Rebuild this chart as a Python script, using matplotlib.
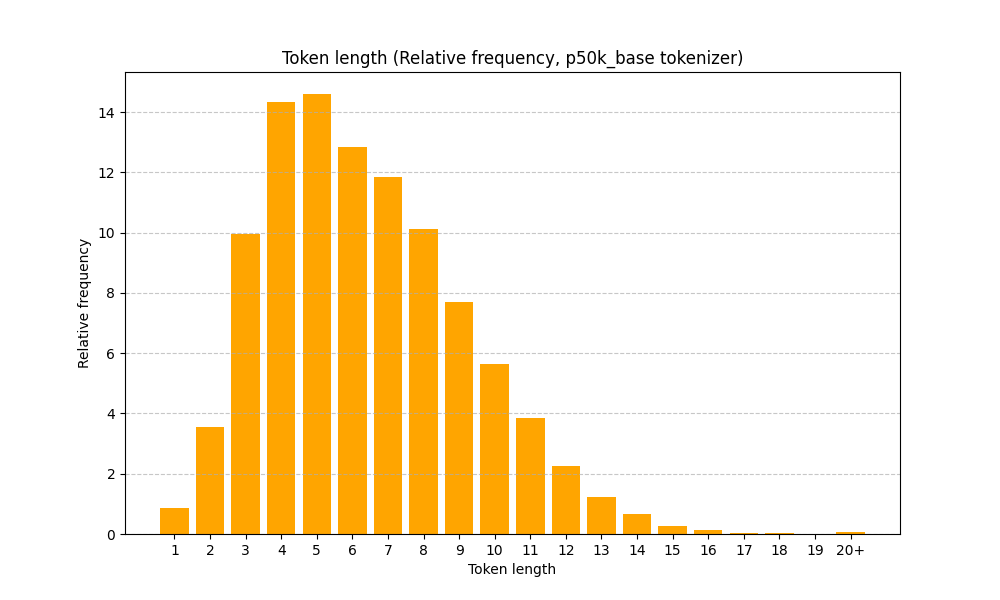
import matplotlib
matplotlib.use("Agg")
import matplotlib.pyplot as plt

# Token length buckets and relative frequency (%)
token_lengths = [str(i) for i in range(1, 20)] + ["20+"]
rel_freq = [0.86, 3.55, 9.95, 14.33, 14.6, 12.84, 11.85, 10.12, 7.7, 5.64,
            3.85, 2.26, 1.23, 0.66, 0.27, 0.13, 0.04, 0.03, 0.01, 0.07]

fig, ax = plt.subplots(figsize=(10, 6), dpi=100)
ax.bar(token_lengths, rel_freq, color="orange")
ax.set_title("Token length (Relative frequency, p50k_base tokenizer)")
ax.set_xlabel("Token length")
ax.set_ylabel("Relative frequency")
ax.grid(axis="y", linestyle="--", alpha=0.7)

plt.savefig("out.png")
